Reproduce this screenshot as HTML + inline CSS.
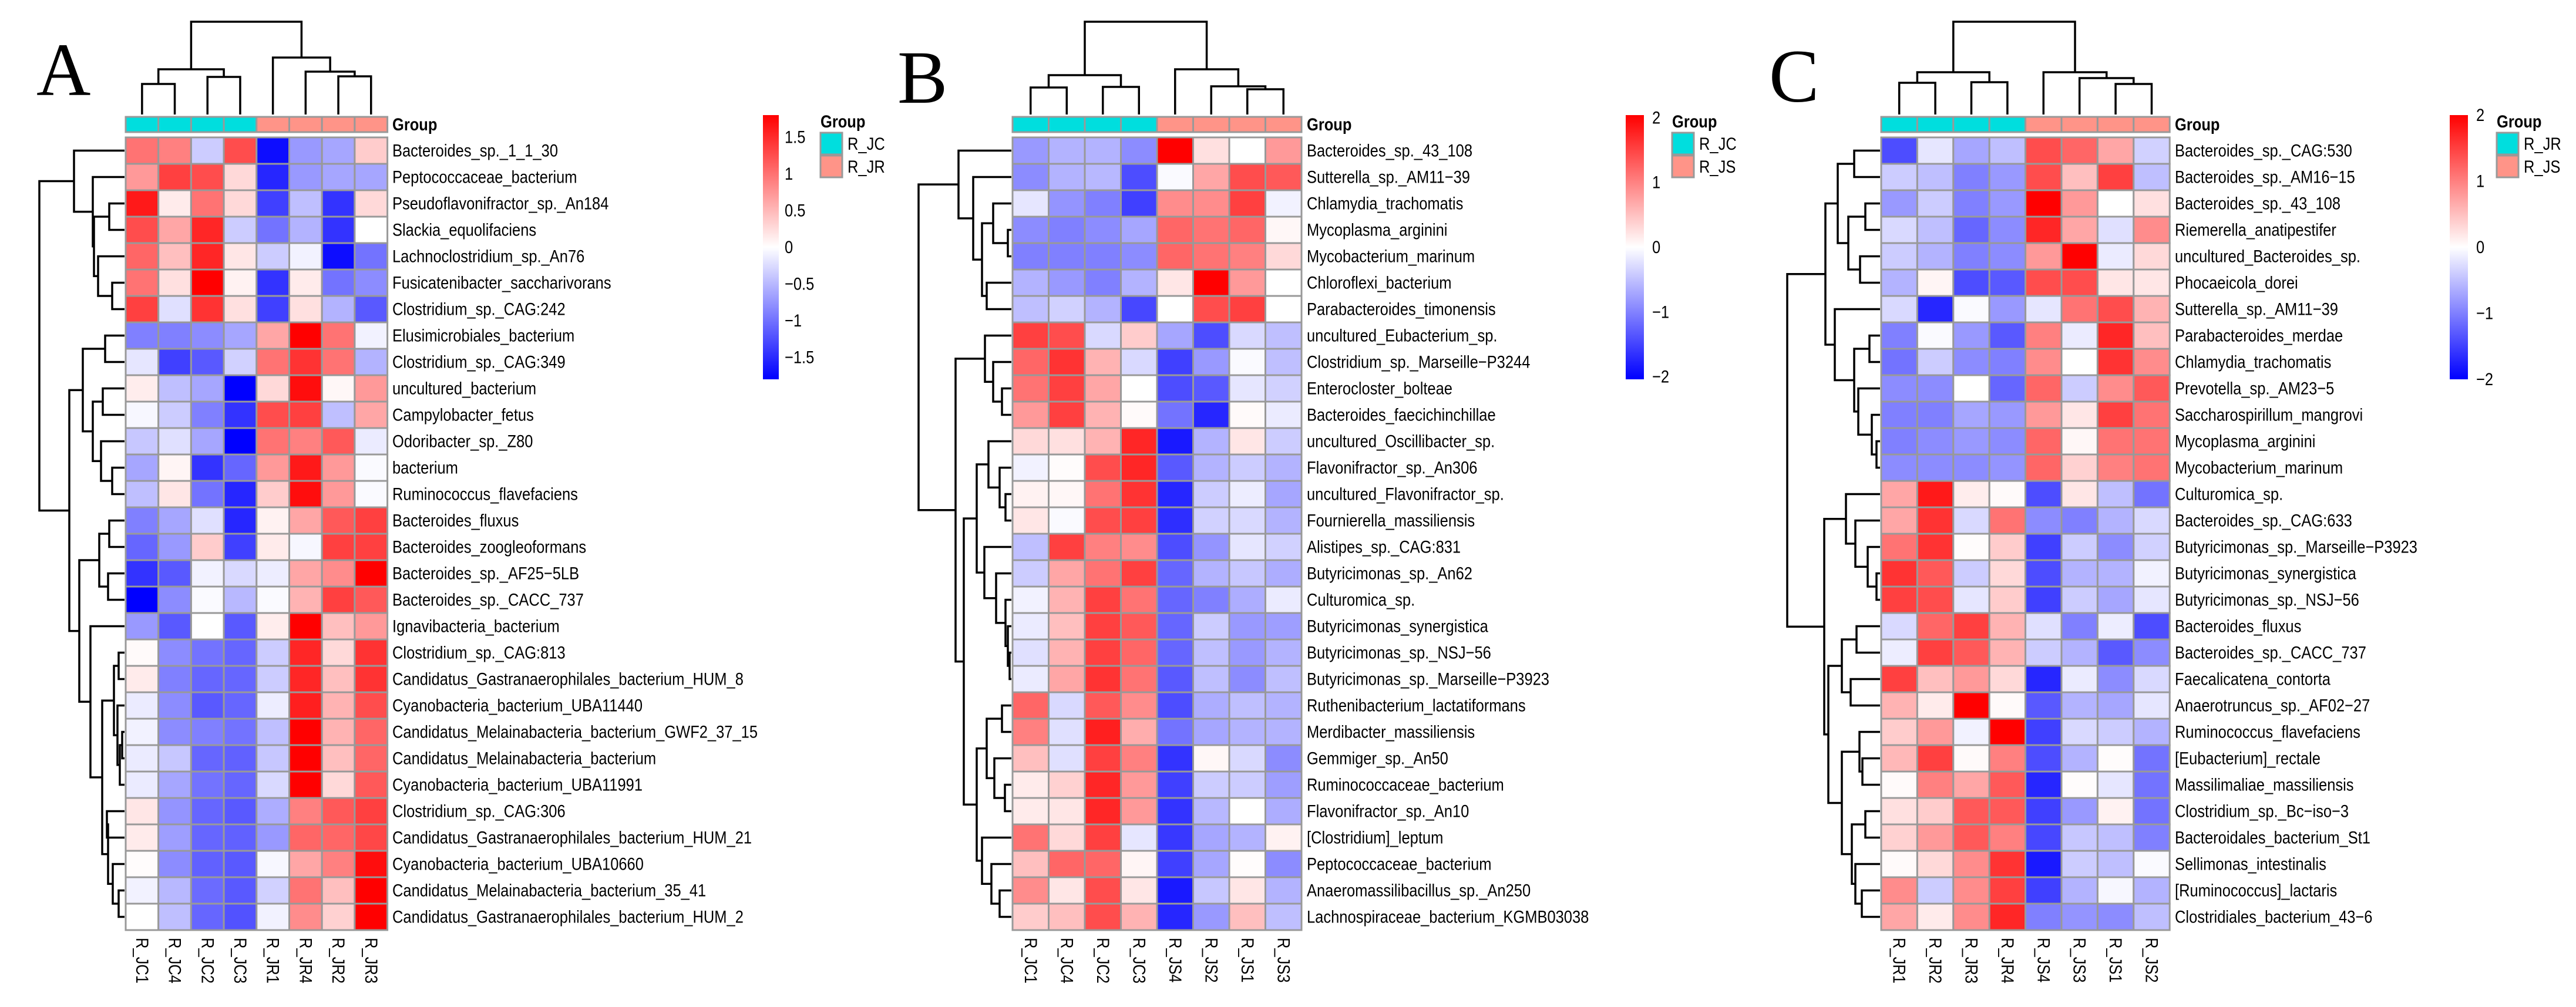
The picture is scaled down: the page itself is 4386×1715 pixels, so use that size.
<!DOCTYPE html>
<html><head><meta charset="utf-8"><style>
html,body{margin:0;padding:0;background:#fff;width:4386px;height:1715px;overflow:hidden}
svg{display:block}
</style></head><body>
<svg id="fig" xmlns="http://www.w3.org/2000/svg" width="4386" height="1715" viewBox="0 0 4386 1715"></svg>
<script>
// ---------- Panel A data ----------
const rowsA = ["Bacteroides_sp._1_1_30","Peptococcaceae_bacterium","Pseudoflavonifractor_sp._An184","Slackia_equolifaciens","Lachnoclostridium_sp._An76","Fusicatenibacter_saccharivorans","Clostridium_sp._CAG:242","Elusimicrobiales_bacterium","Clostridium_sp._CAG:349","uncultured_bacterium","Campylobacter_fetus","Odoribacter_sp._Z80","bacterium","Ruminococcus_flavefaciens","Bacteroides_fluxus","Bacteroides_zoogleoformans","Bacteroides_sp._AF25\u22125LB","Bacteroides_sp._CACC_737","Ignavibacteria_bacterium","Clostridium_sp._CAG:813","Candidatus_Gastranaerophilales_bacterium_HUM_8","Cyanobacteria_bacterium_UBA11440","Candidatus_Melainabacteria_bacterium_GWF2_37_15","Candidatus_Melainabacteria_bacterium","Cyanobacteria_bacterium_UBA11991","Clostridium_sp._CAG:306","Candidatus_Gastranaerophilales_bacterium_HUM_21","Cyanobacteria_bacterium_UBA10660","Candidatus_Melainabacteria_bacterium_35_41","Candidatus_Gastranaerophilales_bacterium_HUM_2"];
const colsA = ["R_JC1","R_JC4","R_JC2","R_JC3","R_JR1","R_JR4","R_JR2","R_JR3"];
const groupsA = [0,0,0,0,1,1,1,1];
const groupNamesA = ["R_JC","R_JR"];
const ticksA = [1.5,1,0.5,0,-0.5,-1,-1.5];
const valsA = [
[.55,.5,-.2,.7,-.95,-.4,-.35,.2],[.4,.75,.7,.15,-.85,-.4,-.35,-.35],[.9,.08,.55,.15,-.75,-.25,-.8,.15],[.7,.35,.85,-.2,-.55,-.3,-.8,0],
[.6,.25,.85,.1,-.2,-.05,-.95,-.55],[.55,.12,1,.05,-.8,.08,-.55,-.45],[.75,-.12,.8,.12,-.75,.12,-.3,-.65],[-.5,-.5,-.45,-.35,.35,1,.55,-.05],
[-.1,-.75,-.65,-.18,.55,.8,.55,-.3],[.07,-.25,-.35,-1,.15,.95,.03,.4],[-.03,-.2,-.5,-.8,.7,.75,-.25,.35],[-.22,-.12,-.35,-1,.55,.5,.65,-.08],
[-.35,.04,-.8,-.6,.4,.9,.4,-.02],[-.25,.1,-.55,-.85,.2,.95,.4,-.02],[-.5,-.35,-.12,-.85,.05,.35,.65,.75],[-.6,-.4,.2,-.75,.08,-.03,.75,.75],
[-.8,-.65,-.05,-.15,-.07,.35,.45,1],[-1,-.45,-.02,-.28,-.02,.3,.75,.65],[-.4,-.65,0,-.65,.07,1,.25,.4],[.02,-.45,-.55,-.6,-.2,.85,.15,.8],
[.08,-.5,-.6,-.6,-.2,.85,.25,.8],[-.08,-.45,-.65,-.6,-.07,.88,.3,.7],[-.05,-.45,-.5,-.55,-.25,1,.3,.6],[-.08,-.22,-.6,-.62,-.22,1,.25,.6],
[-.08,-.35,-.55,-.6,-.15,1,.15,.65],[.1,-.42,-.6,-.65,-.32,.5,.65,.75],[.08,-.38,-.6,-.62,-.4,.6,.6,.72],[.01,-.45,-.62,-.65,-.03,.35,.5,.95],
[-.05,-.28,-.58,-.65,-.18,.55,.25,1],[0,-.25,-.6,-.68,-.05,.45,.18,1]];
// ---------- Panel B data ----------
const rowsB = ["Bacteroides_sp._43_108","Sutterella_sp._AM11\u221239","Chlamydia_trachomatis","Mycoplasma_arginini","Mycobacterium_marinum","Chloroflexi_bacterium","Parabacteroides_timonensis","uncultured_Eubacterium_sp.","Clostridium_sp._Marseille\u2212P3244","Enterocloster_bolteae","Bacteroides_faecichinchillae","uncultured_Oscillibacter_sp.","Flavonifractor_sp._An306","uncultured_Flavonifractor_sp.","Fournierella_massiliensis","Alistipes_sp._CAG:831","Butyricimonas_sp._An62","Culturomica_sp.","Butyricimonas_synergistica","Butyricimonas_sp._NSJ\u221256","Butyricimonas_sp._Marseille\u2212P3923","Ruthenibacterium_lactatiformans","Merdibacter_massiliensis","Gemmiger_sp._An50","Ruminococcaceae_bacterium","Flavonifractor_sp._An10","[Clostridium]_leptum","Peptococcaceae_bacterium","Anaeromassilibacillus_sp._An250","Lachnospiraceae_bacterium_KGMB03038"];
const colsB = ["R_JC1","R_JC4","R_JC2","R_JC3","R_JS4","R_JS2","R_JS1","R_JS3"];
const groupsB = [0,0,0,0,1,1,1,1];
const groupNamesB = ["R_JC","R_JS"];
const ticksB = [2,1,0,-1,-2];
const valsB = [
[-.4,-.3,-.3,-.45,1,.12,0,.4],[-.45,-.3,-.28,-.7,-.02,.35,.7,.65],[-.1,-.42,-.5,-.75,.45,.45,.75,-.05],[-.45,-.5,-.45,-.35,.6,.55,.6,.03],
[-.5,-.5,-.5,-.45,.6,.55,.5,.15],[-.3,-.4,-.5,-.3,.1,1,.4,0],[-.25,-.18,-.3,-.72,0,.7,.75,0],[.75,.7,-.15,.2,-.35,-.7,-.15,-.25],
[.6,.8,.3,-.15,-.75,-.4,-.02,-.25],[.55,.75,.35,0,-.7,-.65,-.1,-.18],[.4,.75,.3,.02,-.55,-.85,.02,-.08],[.15,.12,.3,.85,-.9,-.3,.1,-.2],
[-.05,.01,.7,.85,-.65,-.3,-.2,-.3],[.05,.03,.55,.8,-.85,-.2,-.07,-.35],[.1,-.02,.7,.75,-.82,-.18,-.15,-.3],[-.25,.75,.5,.45,-.7,-.42,-.1,-.18],
[-.2,.35,.55,.75,-.6,-.3,-.22,-.32],[-.05,.3,.75,.55,-.6,-.5,-.32,-.08],[-.08,.25,.75,.65,-.6,-.2,-.4,-.38],[-.12,.3,.75,.6,-.6,-.25,-.4,-.3],
[-.08,.35,.8,.55,-.65,-.25,-.45,-.25],[.6,-.15,.65,.45,-.7,-.32,-.25,-.3],[.5,-.12,.88,.32,-.55,-.35,-.3,-.3],[.25,-.12,.75,.5,-.8,.03,-.15,-.45],
[.08,.18,.85,.4,-.75,-.2,-.2,-.38],[.08,.1,.85,.4,-.8,-.28,0,-.32],[.55,.15,.75,-.1,-.78,-.35,-.3,.05],[.25,.6,.6,.04,-.75,-.35,.01,-.45],
[.45,.1,.7,.1,-.9,-.22,.1,-.3],[.2,.25,.7,.3,-.85,-.4,.25,-.25]];
// ---------- Panel C data ----------
const rowsC = ["Bacteroides_sp._CAG:530","Bacteroides_sp._AM16\u221215","Bacteroides_sp._43_108","Riemerella_anatipestifer","uncultured_Bacteroides_sp.","Phocaeicola_dorei","Sutterella_sp._AM11\u221239","Parabacteroides_merdae","Chlamydia_trachomatis","Prevotella_sp._AM23\u22125","Saccharospirillum_mangrovi","Mycoplasma_arginini","Mycobacterium_marinum","Culturomica_sp.","Bacteroides_sp._CAG:633","Butyricimonas_sp._Marseille\u2212P3923","Butyricimonas_synergistica","Butyricimonas_sp._NSJ\u221256","Bacteroides_fluxus","Bacteroides_sp._CACC_737","Faecalicatena_contorta","Anaerotruncus_sp._AF02\u221227","Ruminococcus_flavefaciens","[Eubacterium]_rectale","Massilimaliae_massiliensis","Clostridium_sp._Bc\u2212iso\u22123","Bacteroidales_bacterium_St1","Sellimonas_intestinalis","[Ruminococcus]_lactaris","Clostridiales_bacterium_43\u22126"];
const colsC = ["R_JR1","R_JR2","R_JR3","R_JR4","R_JS4","R_JS3","R_JS1","R_JS2"];
const groupsC = [0,0,0,0,1,1,1,1];
const groupNamesC = ["R_JR","R_JS"];
const ticksC = [2,1,0,-1,-2];
const valsC = [
[-.7,-.1,-.35,-.25,.7,.6,.35,-.18],[-.2,-.25,-.5,-.4,.7,.25,.75,-.25],[-.4,-.2,-.5,-.4,1,.4,0,.12],[-.15,-.25,-.6,-.45,.85,.35,-.12,.45],
[-.2,-.3,-.5,-.45,.4,1,-.08,.15],[-.3,.04,-.7,-.65,.7,.7,.1,.1],[-.15,-.85,-.02,-.4,-.1,.55,.7,.3],[-.5,-.02,-.4,-.65,.5,-.08,.85,.25],
[-.55,-.2,-.45,-.5,.45,0,.8,.45],[-.45,-.45,0,-.6,.6,-.2,.45,.65],[-.5,-.5,-.35,-.4,.4,.1,.75,.55],[-.5,-.45,-.4,-.45,.6,.03,.55,.55],
[-.45,-.45,-.45,-.42,.6,.18,.5,.55],[.35,.9,.07,.02,-.7,.1,-.25,-.55],[.35,.8,-.15,.55,-.45,-.5,-.3,-.15],[.55,.8,.01,.2,-.75,-.2,-.45,-.18],
[.8,.65,-.2,.15,-.7,-.3,-.3,-.05],[.75,.7,-.1,.2,-.75,-.2,-.35,-.1],[-.15,.6,.75,.3,-.12,-.5,-.07,-.7],[-.07,.75,.65,.3,-.2,-.3,-.65,-.45],
[.75,.25,.4,.15,-.85,-.08,-.45,-.15],[.3,.08,1,.02,-.65,-.3,-.35,-.1],[.2,.4,-.05,1,-.75,-.15,-.2,-.3],[.28,.75,.02,.5,-.7,-.3,.01,-.55],
[.02,.5,.35,.65,-.85,.01,-.1,-.55],[.12,.2,.65,.65,-.75,-.4,.05,-.55],[.18,.4,.65,.5,-.72,-.22,-.25,-.5],[.02,.15,.45,.8,-.9,-.2,-.25,-.02],
[.45,-.2,.45,.75,-.75,-.3,-.03,-.3],[.35,.08,.45,.85,-.5,-.42,-.45,-.25]];

// dendrogram structures (leaf index / [left,right,height])
const rowTreeA = [[0,[1,[[2,3,28],[4,[5,6,23],47],54],56],88],[[[7,8,35],[[9,10,39],[11,[12,13,23],42],56],73],[[[14,15,28],[16,17,30],45],[18,[[[19,20,12],[21,[[22,23,6],24,10],14],20],[[25,26,32],[27,[28,29,12],22],30],40],60],79],96],147];
const rowTreeB = [[0,[1,[[2,[3,4,8],33],[5,6,44],52],67],92],[[7,[8,[9,10,18],33],47],[[[11,[12,[13,14,12],22],41],[15,[16,[17,[18,[19,20,5],8],12],28],48],61],[[[21,22,18],[23,[24,25,13],31],44],[26,[27,[28,29,22],36],52],61],83],97],160];
const rowTreeC = [[[[0,1,46],[[2,3,27],[4,5,36],56],74],[6,[[7,8,20],[9,[10,[11,12,8],16],39],46],79],95],[[13,[14,[15,[16,17,8],23],44],60],[[[18,19,42],[20,21,52],67],[[22,[23,24,32],37],[[25,26,27],[27,[28,29,33],44],50],67],90],97],160];
const colTreeA = [[[0,1,143],[2,3,131],118],[4,[5,[6,7,130],122],98],37];
const colTreeB = [[[0,1,149],[2,3,148],128],[4,[5,[6,7,152],147],118],37];
const colTreeC = [[[0,1,141],[2,3,140],123],[4,[5,[6,7,143],133],123],37];

const NS="http://www.w3.org/2000/svg";
const svg=document.getElementById('fig');
function mk(tag,attrs,parent){const e=document.createElementNS(NS,tag);for(const k in attrs)e.setAttribute(k,attrs[k]);(parent||svg).appendChild(e);return e;}
function col(t){t=Math.max(-1,Math.min(1,t));if(t>=0){const c=Math.round(255*(1-t));return `rgb(255,${c},${c})`;}const c=Math.round(255*(1+t));return `rgb(${c},${c},255)`;}
const TOP=234, RH=45, GY=199, GH=26, LEAFY=195;
const FONT='"Liberation Sans", Arial, sans-serif';

function drawPanel(P){
  const g=mk('g',{});
  
  
  const L=mk('text',{x:P.letterX,y:P.letterY,'font-family':'"Liberation Serif", serif','font-size':128},g);
  L.textContent=P.id;
  
  
  const nR=P.rows.length, nC=P.cols.length, cw=P.cw, rh=(1350)/nR;
  // group bar
  for(let j=0;j<nC;j++){
    const r=mk('rect',{x:P.hx+j*cw,y:GY,width:cw,height:GH,fill:P.groups[j]?'#FF9488':'#00DEDE',stroke:'#999',  'stroke-width':3},g);
    
    
  }
  const gl=mk('text',{x:P.lx,y:GY+GH/2+10,'font-family':FONT,'font-size':30,'font-weight':'bold',transform:`translate(${P.lx},0) scale(0.85,1) translate(${-P.lx},0)`},g);
  gl.textContent='Group';
  
  
  // cells
  for(let i=0;i<nR;i++){
    for(let j=0;j<nC;j++){
      const r=mk('rect',{x:P.hx+j*cw,y:TOP+i*rh,width:cw,height:rh,fill:col(P.vals[i][j]),stroke:'#999','stroke-width':3},g);
      
      
    }
    const t=mk('text',{x:P.lx,y:TOP+(i+0.5)*rh+10,'font-family':FONT,'font-size':30,transform:`translate(${P.lx},0) scale(0.85,1) translate(${-P.lx},0)`},g);
    t.textContent=P.rows[i];
    
    
  }
  for(let j=0;j<nC;j++){
    const cx=P.hx+(j+0.5)*cw-10, y0=1597;
    const t=mk('text',{x:0,y:0,'font-family':FONT,'font-size':30,transform:`translate(${cx},${y0}) rotate(90) scale(0.85,1)`},g);
    t.textContent=P.cols[j];
    
    
  }
  // row dendrogram
  const dg=mk('g',{stroke:'#000','stroke-width':3.5,fill:'none'},g);
  
  
  function rowNode(n){
    if(typeof n==='number')return {p:TOP+(n+0.5)*rh,x:P.hx-2};
    const a=rowNode(n[0]),b=rowNode(n[1]),x=P.hx-n[2];
    mk('path',{d:`M${a.x},${a.p}H${x}V${b.p}H${b.x}`},dg);
    return {p:(a.p+b.p)/2,x:x};
  }
  rowNode(P.rowTree);
  const cg=mk('g',{stroke:'#000','stroke-width':3.5,fill:'none'},g);
  
  
  function colNode(n){
    if(typeof n==='number')return {p:P.hx+(n+0.5)*cw,y:LEAFY};
    const a=colNode(n[0]),b=colNode(n[1]),y=n[2];
    mk('path',{d:`M${a.p},${a.y}V${y}H${b.p}V${b.y}`},cg);
    return {p:(a.p+b.p)/2,y:y};
  }
  colNode(P.colTree);
  // colorbar
  const gid='grad'+P.id;
  const defs=mk('defs',{},g);
  const lg=mk('linearGradient',{id:gid,x1:0,y1:0,x2:0,y2:1},defs);
  mk('stop',{offset:'0','stop-color':'#FF0000'},lg);
  mk('stop',{offset:'0.5','stop-color':'#FFFFFF'},lg);
  mk('stop',{offset:'1','stop-color':'#0000FF'},lg);
  const cb=mk('rect',{x:P.bx,y:196,width:P.bw,height:450,fill:`url(#${gid})`},g);
  
  
  for(const tv of P.ticks){
    const y=421-tv*(225/P.zmax);
    const t=mk('text',{x:P.tx,y:y+10,'font-family':FONT,'font-size':30,transform:`translate(${P.tx},0) scale(0.85,1) translate(${-P.tx},0)`},g);
    t.textContent=String(tv).replace('-','\u2212');
    
    
  }
  const lt=mk('text',{x:P.gx,y:217,'font-family':FONT,'font-size':30,'font-weight':'bold',transform:`translate(${P.gx},0) scale(0.85,1) translate(${-P.gx},0)`},g);
  lt.textContent='Group';
  
  
  for(let k=0;k<2;k++){
    const sw=mk('rect',{x:P.gx,y:226+k*39,width:37,height:37,fill:k?'#FF9488':'#00DEDE',stroke:'#999','stroke-width':3},g);
    
    
    const tx=P.gx+46;
    const t=mk('text',{x:tx,y:255+k*39,'font-family':FONT,'font-size':30,transform:`translate(${tx},0) scale(0.85,1) translate(${-tx},0)`},g);
    t.textContent=P.groupNames[k];
    
    
  }
}
drawPanel({id:'A',rows:rowsA,cols:colsA,groups:groupsA,groupNames:groupNamesA,vals:valsA,ticks:ticksA,zmax:1.8,rowTree:rowTreeA,colTree:colTreeA,hx:214,cw:55.7,lx:668,bx:1299,bw:27,tx:1336,gx:1397,letterX:62,letterY:162});
drawPanel({id:'B',rows:rowsB,cols:colsB,groups:groupsB,groupNames:groupNamesB,vals:valsB,ticks:ticksB,zmax:2.04,rowTree:rowTreeB,colTree:colTreeB,hx:1724,cw:61.5,lx:2225,bx:2768,bw:31,tx:2813,gx:2847,letterX:1528,letterY:175});
drawPanel({id:'C',rows:rowsC,cols:colsC,groups:groupsC,groupNames:groupNamesC,vals:valsC,ticks:ticksC,zmax:2,rowTree:rowTreeC,colTree:colTreeC,hx:3203,cw:61.4,lx:3703,bx:4171,bw:31,tx:4216,gx:4251,letterX:3012,letterY:173});
</script>
</body></html>
